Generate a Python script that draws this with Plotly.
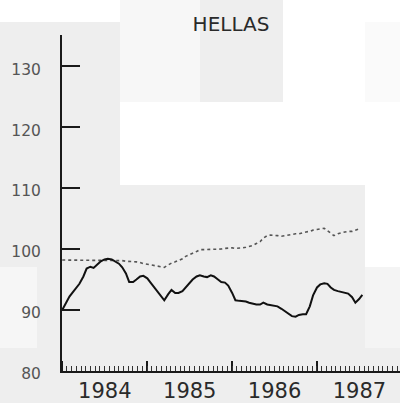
import pandas as pd
import plotly.graph_objects as go

# ---- data (semi-monthly observations, Jan 1984 onward) ----
solid_values = [
    90.0, 91.0, 92.2, 92.9, 93.6, 94.3, 95.5, 96.8, 97.1, 96.9,
    97.5, 98.0, 98.3, 98.4, 98.3, 98.0, 97.6, 97.0, 96.0, 94.6,
    94.6, 95.0, 95.5, 95.6, 95.2, 94.5, 93.7, 93.0, 92.2, 91.6,
    92.6, 93.3, 92.8, 92.8, 93.1, 93.7, 94.3, 95.0, 95.5, 95.7,
    95.5, 95.4, 95.7, 95.5, 95.0, 94.6, 94.5, 94.0, 92.8, 91.6,
    91.5, 91.5, 91.4, 91.2, 91.0, 90.9, 90.9, 91.2, 90.9, 90.8,
    90.7, 90.6, 90.2, 89.8, 89.3, 89.0, 88.9, 89.2, 89.3, 89.3,
    90.6, 92.4, 93.7, 94.2, 94.4, 94.3, 93.7, 93.3, 93.1, 93.0,
    92.9, 92.7, 92.1, 91.2, 91.8, 92.5,
]
dotted_values = [
    98.2, 98.2, 98.1, 98.2, 98.2, 98.1, 98.2, 98.2, 98.1, 98.2,
    98.2, 98.2, 98.2, 98.1, 98.2, 98.2, 98.1, 98.1, 98.0, 98.0,
    97.9, 97.9, 97.8, 97.6, 97.5, 97.4, 97.4, 97.3, 97.2, 97.0,
    97.4, 97.7, 97.9, 98.1, 98.4, 98.8, 99.0, 99.3, 99.6, 99.9,
    99.9, 99.9, 100.0, 100.0, 100.0, 100.0, 100.1, 100.2, 100.2, 100.1,
    100.1, 100.2, 100.3, 100.4, 100.6, 100.9, 101.2, 101.8, 102.2, 102.3,
    102.3, 102.2, 102.1, 102.2, 102.3, 102.4, 102.5, 102.5, 102.6, 102.8,
    102.9, 103.1, 103.2, 103.3, 103.4, 103.0, 102.6, 102.2, 102.5, 102.7,
    102.8, 102.9, 102.9, 103.1, 103.3,
]
dates = pd.date_range("1984-01-01", periods=len(solid_values), freq="SMS")
y_tick_values = [80, 90, 100, 110, 120, 130]
title_text = "HELLAS"

# ---- layout geometry (pixels) ----
W, H = 400, 403
L, R, T, B = 62, 0, 35, 32
pw, ph = W - L - R, H - T - B
x_range = ["1983-12-31", "1987-12-24"]


def px_x(px):
    return (px - L) / pw


def px_y(py):
    return (H - B - py) / ph


blocks = [
    (0, 22, 120, 185, "#eeeeee"),
    (120, 0, 200, 102, "#f7f7f7"),
    (200, 0, 283, 102, "#eeeeee"),
    (365, 22, 400, 102, "#fafafa"),
    (0, 185, 365, 267, "#eeeeee"),
    (0, 267, 37, 348, "#f6f6f6"),
    (37, 267, 365, 348, "#eeeeee"),
    (365, 267, 400, 348, "#f4f4f4"),
    (0, 348, 400, 403, "#eeeeee"),
]
shapes = [
    dict(type="rect", xref="paper", yref="paper", layer="below",
         x0=px_x(a), x1=px_x(c), y0=px_y(d), y1=px_y(b),
         fillcolor=col, line=dict(width=0))
    for a, b, c, d, col in blocks
]

fig = go.Figure()
fig.add_trace(go.Scatter(
    x=dates[:len(dotted_values)], y=dotted_values, mode="lines",
    line=dict(color="#555555", width=1.6, dash="dot"),
    showlegend=False, hoverinfo="skip"))
fig.add_trace(go.Scatter(
    x=dates, y=solid_values, mode="lines",
    line=dict(color="#111111", width=2),
    showlegend=False, hoverinfo="skip"))

fig.update_layout(
    width=W, height=H,
    margin=dict(l=L, r=R, t=T, b=B, pad=0),
    paper_bgcolor="white",
    plot_bgcolor="rgba(0,0,0,0)",
    shapes=shapes,
    title=dict(text=title_text, x=0.5, xref="paper", xanchor="center",
               y=1 - 24 / H, yref="container", yanchor="middle",
               font=dict(family="DejaVu Sans", size=20, color="#2a2a2a")),
    xaxis=dict(
        type="date",
        range=x_range,
        tick0="1984-01-01", dtick="M12",
        ticklabelmode="period", tickformat="%Y",
        ticks="inside", ticklen=10, tickwidth=1.5, tickcolor="#1a1a1a",
        showline=True, linecolor="#1a1a1a", linewidth=2,
        showgrid=False, zeroline=False,
        tickfont=dict(family="DejaVu Sans", size=21, color="#2a2a2a"),
    ),
    xaxis2=dict(
        type="date", overlaying="x", anchor="y", side="bottom",
        range=x_range, matches="x",
        tick0="1984-01-01", dtick=1753200000,
        ticks="inside", ticklen=5, tickwidth=1.2, tickcolor="#333333",
        showticklabels=False, showline=False, showgrid=False, zeroline=False,
    ),
    yaxis=dict(
        range=[80, 135.1],
        tickvals=y_tick_values,
        ticks="inside", ticklen=18, tickwidth=1.5, tickcolor="#1a1a1a",
        showline=True, linecolor="#1a1a1a", linewidth=2,
        showgrid=False, zeroline=False,
        ticklabelstandoff=16, ticklabelshift=3,
        tickfont=dict(family="DejaVu Sans", size=15.5, color="#555555"),
    ),
)
# an invisible trace so the tick-only overlay axis is drawn
fig.add_trace(go.Scatter(x=[dates[0]], y=[y_tick_values[0]], xaxis="x2",
                         mode="markers", marker=dict(opacity=0),
                         showlegend=False, hoverinfo="skip"))

fig.write_html(
    "out.html",
    config={"displayModeBar": False},
    post_script="document.body.style.margin='0';document.body.style.overflow='hidden';",
)
